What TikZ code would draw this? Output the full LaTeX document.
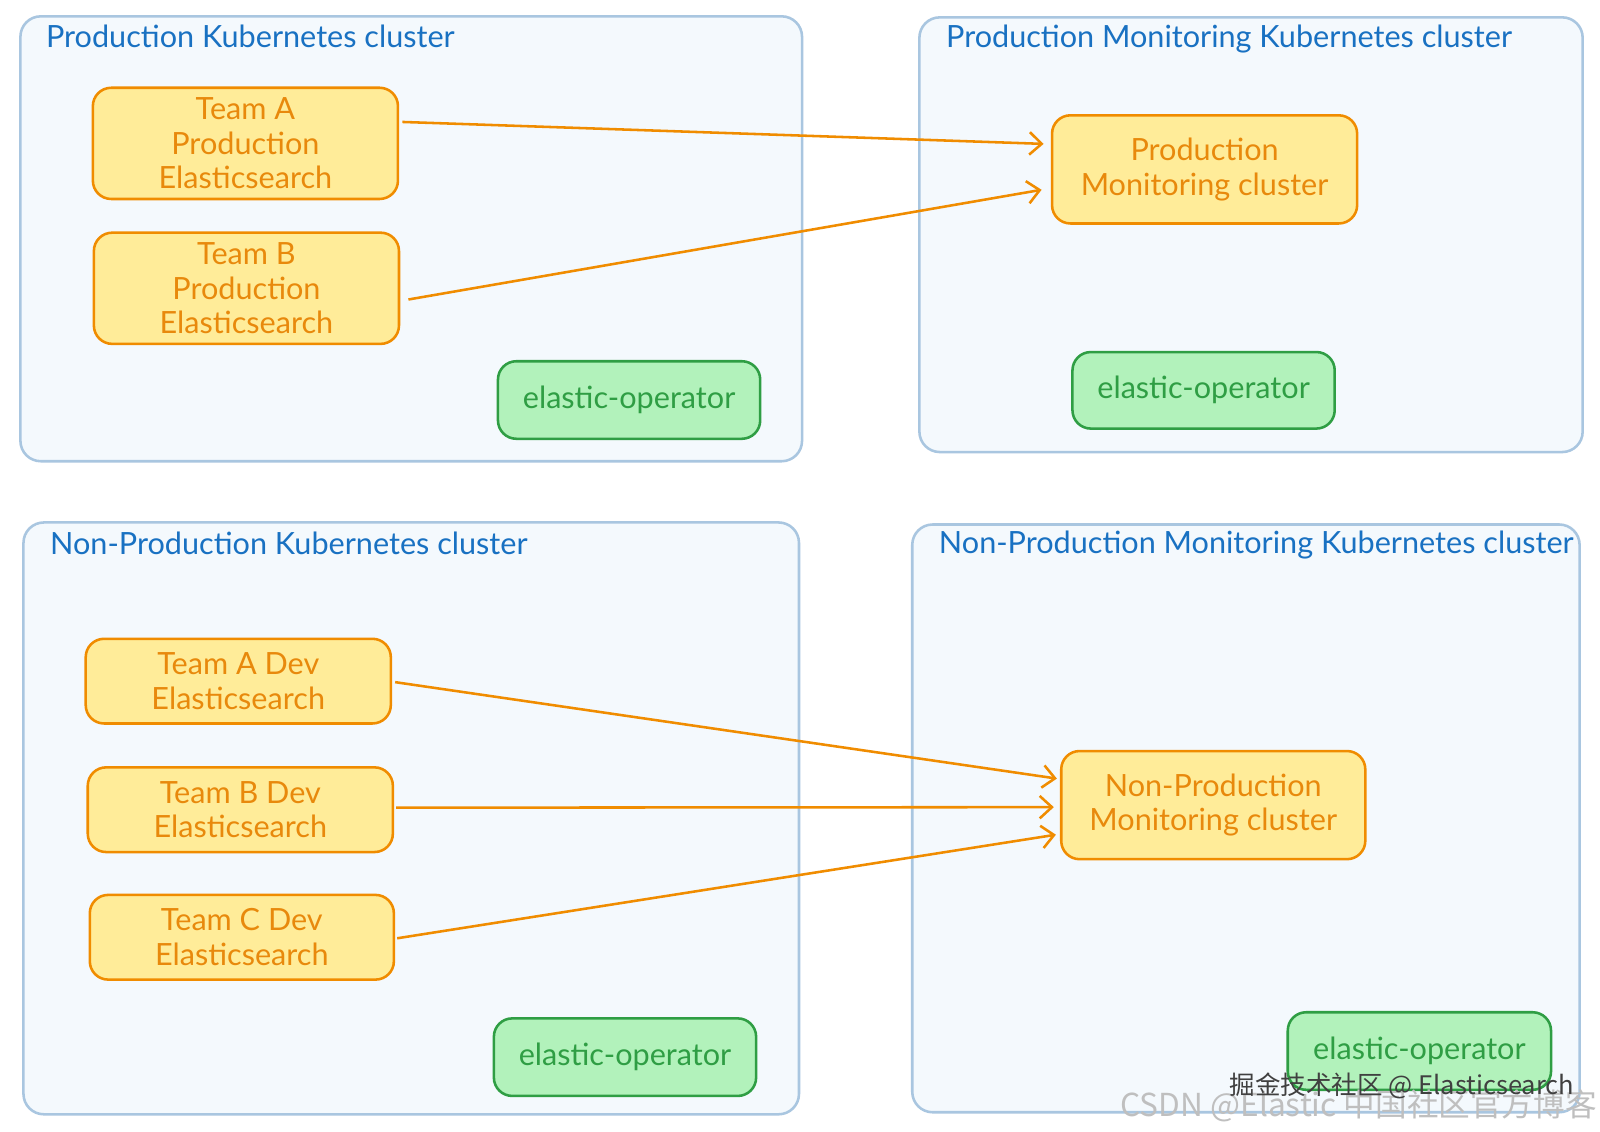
\documentclass[tikz,border=0pt]{standalone}
\usepackage{fontspec}
\setmainfont{Lato}
\newfontfamily\cjk{Noto Sans CJK SC}
\usetikzlibrary{arrows.meta}
\definecolor{clfill}{HTML}{F4F9FD}
\definecolor{cldraw}{HTML}{A9C6E0}
\definecolor{cltext}{HTML}{1971C2}
\definecolor{esfill}{HTML}{FFEC99}
\definecolor{esdraw}{HTML}{F08C00}
\definecolor{estext}{HTML}{E8890C}
\definecolor{opfill}{HTML}{B2F2BB}
\definecolor{opdraw}{HTML}{2F9E44}
\definecolor{optext}{HTML}{2F9E44}
\tikzset{
  cluster/.style={draw=cldraw, fill=clfill, line width=2.5pt, rounded corners=20pt, inner sep=0pt},
  cltitle/.style={anchor=west, text=cltext, inner sep=0pt, font=\fontsize{30}{34}\selectfont},
  esbox/.style={draw=esdraw, fill=esfill, line width=2.5pt, rounded corners=18pt, inner sep=0pt,
    align=center, text=estext, font=\fontsize{30}{34}\selectfont},
  opbox/.style={draw=opdraw, fill=opfill, line width=2.5pt, rounded corners=18pt, inner sep=0pt,
    align=center, text=optext, font=\fontsize{30}{34}\selectfont},
  flow/.style={draw=esdraw, line width=2.5pt, -{Straight Barb[length=12pt,width=22pt,line width=2.5pt]}},
  wmark/.style={inner sep=0pt, anchor=west}
}
\begin{document}
\begin{tikzpicture}[x=1pt,y=-1pt]
\useasboundingbox[fill=white] (0,0) rectangle (1568,1109);
% clusters
\node[cluster, minimum width=766pt, minimum height=436pt] (c1) at (403,234) {};
\node[cluster, minimum width=650pt, minimum height=426pt] (c2) at (1226,230) {};
\node[cluster, minimum width=760pt, minimum height=580pt] (c3) at (403,802) {};
\node[cluster, minimum width=654pt, minimum height=576pt] (c4) at (1221,802) {};
\node[cltitle] (t1) at (45,36) {Production Kubernetes cluster};
\node[cltitle] (t2) at (927,38) {Production Monitoring Kubernetes cluster};
\node[cltitle] (t3) at (49,532) {Non-Production Kubernetes cluster};
\node[cltitle] (t4) at (920,534) {Non-Production Monitoring Kubernetes cluster};
% production
\node[esbox, minimum width=299pt, minimum height=109pt] (ta) at (240.5,140.5) {Team A\\Production\\Elasticsearch};
\node[esbox, minimum width=299pt, minimum height=109pt] (tb) at (241.5,282.5) {Team B\\Production\\Elasticsearch};
\node[opbox, minimum width=257pt, minimum height=76pt] (op1) at (616.5,392) {elastic-operator};
\node[esbox, minimum width=299pt, minimum height=106pt] (pm) at (1180.5,166) {Production\\Monitoring cluster};
\node[opbox, minimum width=257pt, minimum height=75pt] (op2) at (1179.5,382.5) {elastic-operator};
% non-production
\node[esbox, minimum width=299pt, minimum height=83pt] (tad) at (233.5,667.5) {Team A Dev\\Elasticsearch};
\node[esbox, minimum width=299pt, minimum height=83pt] (tbd) at (235.5,793.5) {Team B Dev\\Elasticsearch};
\node[esbox, minimum width=298pt, minimum height=83pt] (tcd) at (237,918.5) {Team C Dev\\Elasticsearch};
\node[opbox, minimum width=257pt, minimum height=76pt] (op3) at (612.5,1036) {elastic-operator};
\node[esbox, minimum width=298pt, minimum height=106pt] (npm) at (1189,789) {Non-Production\\Monitoring cluster};
\node[opbox, minimum width=258pt, minimum height=76pt] (op4) at (1391,1030) {elastic-operator};
% connectors
\draw[flow] ([xshift=3pt,yshift=21pt]ta.east) -- ([xshift=-7pt,yshift=25pt]pm.west);
\draw[flow] ([xshift=8pt,yshift=-11pt]tb.east) -- ([xshift=-9pt,yshift=-20pt]pm.west);
\draw[flow] ([xshift=3pt,yshift=-1pt]tad.east) -- ([xshift=-3pt,yshift=26pt]npm.west);
\draw[flow] ([xshift=2pt,yshift=2pt]tbd.east) -- ([xshift=-6pt,yshift=-2pt]npm.west);
\draw[flow] ([xshift=2pt,yshift=-1pt]tcd.east) -- ([xshift=-4pt,yshift=-29pt]npm.west);
% watermark
\node[wmark, text=black!25, font=\cjk\fontsize{31}{34}\selectfont] (wm2) at (1098,1084) {CSDN @Elastic 中国社区官方博客};
\node[wmark, text=black!75, font=\cjk\fontsize{25}{28}\selectfont] (wm1) at (1205,1064) {掘金技术社区 @ Elasticsearch};
\end{tikzpicture}
\end{document}
